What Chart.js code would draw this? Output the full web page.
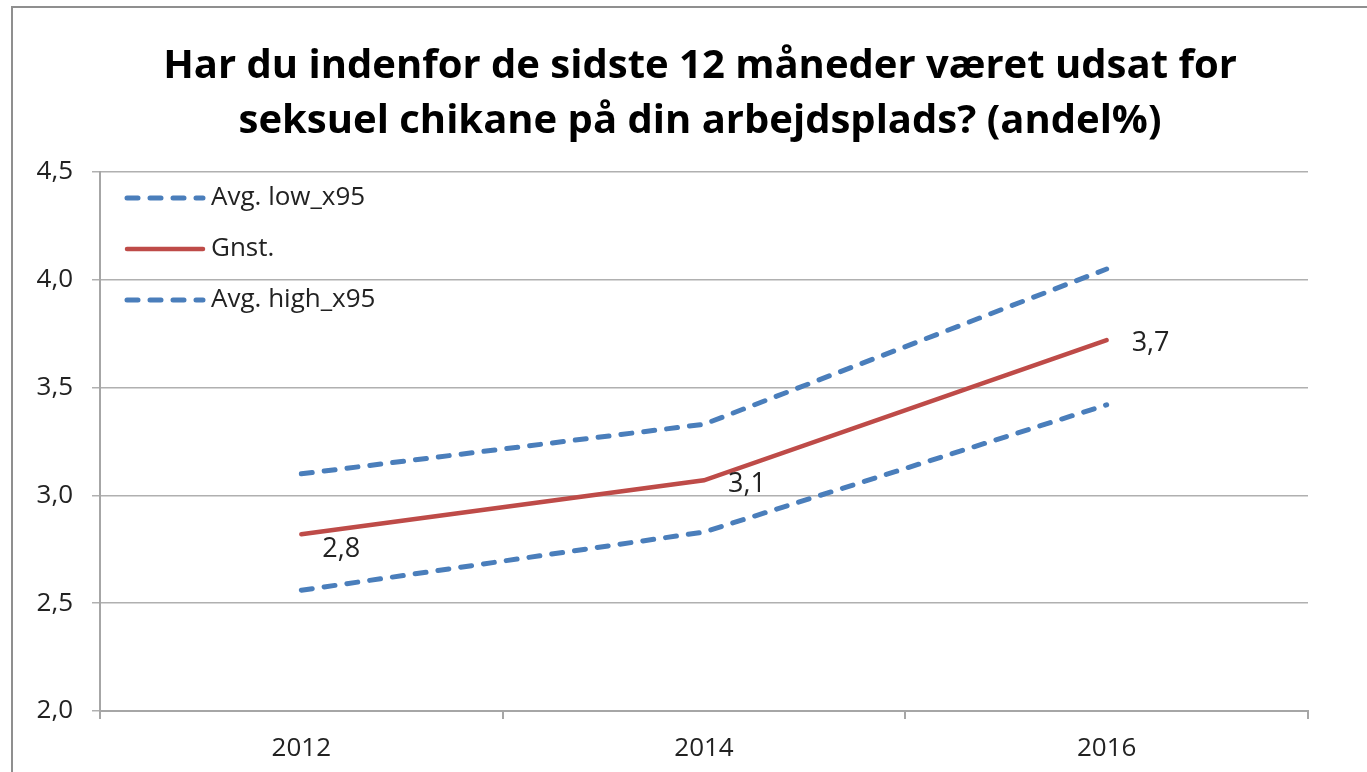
<!DOCTYPE html>
<html>
<head>
<meta charset="utf-8">
<script src="https://cdn.jsdelivr.net/npm/chart.js@4"></script>
<style>
    html, body { margin: 0; padding: 0; background: #fff; overflow: hidden; }
    #wrap { position: relative; width: 1367px; height: 772px; overflow: hidden; }
    #frame { position: absolute; left: 11px; top: 6px; width: 1400px; height: 820px; border: 2px solid #8f8f8f; box-sizing: border-box; }
    #chart-box { position: absolute; left: 0; top: 0; width: 1400px; height: 772px; }
    #chart-title {
        position: absolute; left: 0; top: 35px; width: 1400px;
        text-align: center; color: #000;
        font: bold 40px/55px "Open Sans", Lato, sans-serif;
    }
</style>
</head>
<body>
<div id="wrap">
    <div id="frame"></div>
    <div id="chart-box"><canvas id="rating-chart" width="1400" height="772"></canvas></div>
    <div id="chart-title">Har du indenfor de sidste 12 måneder været udsat for<br>seksuel chikane på din arbejdsplads? (andel%)</div>
</div>
<script>
const years = ['2012', '2014', '2016'];
const avgLow = [2.56, 2.83, 3.42];
const gnst = [2.82, 3.07, 3.72];
const avgHigh = [3.10, 3.33, 4.05];
const yTicks = [2.0, 2.5, 3.0, 3.5, 4.0, 4.5];

const blue = '#4a7ebb';
const red = '#be4b48';
const fontName = '"Open Sans", Lato, sans-serif';

function comma(v) {
    return v.toFixed(1).replace('.', ',');
}

// labels next to the Gnst. points, Excel style
const valueLabels = {
    id: 'valueLabels',
    afterDatasetsDraw(chart) {
        const ctx = chart.ctx;
        const meta = chart.getDatasetMeta(1);
        const offsets = [[21, 15], [24, 4], [25, 3]];
        ctx.save();
        ctx.font = '27px ' + fontName;
        ctx.fillStyle = '#222';
        ctx.textBaseline = 'middle';
        ctx.textAlign = 'left';
        meta.data.forEach((pt, i) => {
            ctx.fillText(comma(gnst[i]), pt.x + offsets[i][0], pt.y + offsets[i][1]);
        });
        ctx.restore();
    }
};

// legend drawn inside the plot area, top-left
const innerLegend = {
    id: 'innerLegend',
    afterDraw(chart) {
        const ctx = chart.ctx;
        const area = chart.chartArea;
        ctx.save();
        ctx.font = '26px ' + fontName;
        ctx.fillStyle = '#222';
        ctx.textBaseline = 'middle';
        chart.data.datasets.forEach((ds, i) => {
            const y = area.top + 26 + i * 51;
            const x = area.left + 27;
            ctx.strokeStyle = ds.borderColor;
            ctx.lineWidth = ds.borderWidth;
            ctx.lineCap = 'round';
            ctx.setLineDash(ds.borderDash || []);
            ctx.beginPath();
            ctx.moveTo(x, y);
            ctx.lineTo(x + 76, y);
            ctx.stroke();
            ctx.setLineDash([]);
            ctx.fillText(ds.label, x + 84, y);
        });
        ctx.restore();
    }
};

const ctx = document.getElementById('rating-chart').getContext('2d');
new Chart(ctx, {
    type: 'line',
    data: {
        labels: years,
        datasets: [{
            label: 'Avg. low_x95',
            data: avgLow,
            borderColor: blue,
            borderWidth: 5,
            borderDash: [11, 12],
            borderCapStyle: 'round',
            pointRadius: 0,
            tension: 0
        }, {
            label: 'Gnst.',
            data: gnst,
            borderColor: red,
            borderWidth: 4.5,
            borderCapStyle: 'round',
            pointRadius: 0,
            tension: 0
        }, {
            label: 'Avg. high_x95',
            data: avgHigh,
            borderColor: blue,
            borderWidth: 5,
            borderDash: [11, 12],
            borderCapStyle: 'round',
            pointRadius: 0,
            tension: 0
        }]
    },
    options: {
        responsive: false,
        animation: false,
        layout: {
            padding: { left: 0, right: 92, top: 172, bottom: 0 }
        },
        scales: {
            x: {
                type: 'category',
                offset: true,
                grid: {
                    offset: true,
                    drawOnChartArea: false,
                    drawTicks: true,
                    tickLength: 8,
                    color: '#a6a6a6',
                    lineWidth: 2
                },
                border: { color: '#a6a6a6', width: 2 },
                ticks: {
                    color: '#222',
                    padding: 14,
                    font: { family: fontName, size: 26 }
                },
                afterFit(scale) { scale.height = 61; }
            },
            y: {
                min: 2,
                max: 4.5,
                afterBuildTicks(scale) {
                    scale.ticks = yTicks.map(v => ({ value: v }));
                },
                grid: {
                    color: '#b0b0b0',
                    lineWidth: 1.5,
                    tickLength: 8
                },
                border: { color: '#a6a6a6', width: 2 },
                ticks: {
                    color: '#222',
                    padding: 19,
                    font: { family: fontName, size: 26 },
                    callback: v => comma(v)
                },
                afterFit(scale) { scale.width = 100; }
            }
        },
        plugins: {
            legend: { display: false },
            tooltip: { enabled: false },
            title: { display: false }
        }
    },
    plugins: [valueLabels, innerLegend]
});
</script>
</body>
</html>
